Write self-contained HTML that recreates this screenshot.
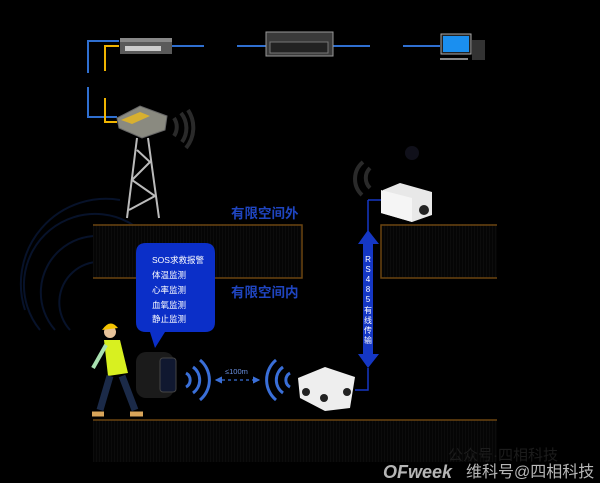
<!DOCTYPE html>
<html><head><meta charset="utf-8"><style>
body{margin:0;background:#000;width:600px;height:483px;overflow:hidden}
svg{display:block}
text{font-family:"Liberation Sans","Noto Sans CJK SC",sans-serif}
</style></head><body>
<svg width="600" height="483" viewBox="0 0 600 483">
<defs>
<pattern id="h" width="3" height="3" patternUnits="userSpaceOnUse"><rect width="3" height="3" fill="#050505"/><line x1="0" y1="0" x2="0" y2="3" stroke="#141414" stroke-width="1"/></pattern>
<marker id="ah" markerWidth="6" markerHeight="6" refX="5" refY="3" orient="auto"><path d="M0,0L6,3L0,6z" fill="#3a6fd8"/></marker>
<marker id="ahs" markerWidth="6" markerHeight="6" refX="1" refY="3" orient="auto"><path d="M6,0L0,3L6,6z" fill="#3a6fd8"/></marker>
</defs>
<g fill="none" stroke="#07122a" stroke-width="2">
<path d="M40,330 A70,70 0 0 1 150,240"/><path d="M55,330 A55,55 0 0 1 140,255"/><path d="M25,310 A85,85 0 0 1 120,200"/><path d="M70,330 A40,40 0 0 1 130,275"/>
</g>
<rect x="93" y="224" width="209" height="54" fill="url(#h)"/>
<path d="M93,225 H302 V278 H93" fill="none" stroke="#6b4410" stroke-width="1.5"/>
<rect x="381" y="224" width="116" height="54" fill="url(#h)"/>
<path d="M497,225 H381 V278 H497" fill="none" stroke="#6b4410" stroke-width="1.5"/>
<rect x="93" y="420" width="404" height="42" fill="url(#h)"/>
<line x1="93" y1="420" x2="497" y2="420" stroke="#6b4410" stroke-width="1.5"/>
<g stroke="#2f6fd0" stroke-width="2" fill="none">
<path d="M119,41 H88 V73"/><path d="M88,87 V117 H117"/>
<line x1="172" y1="46" x2="204" y2="46"/><line x1="237" y1="46" x2="266" y2="46"/>
<line x1="333" y1="46" x2="370" y2="46"/><line x1="403" y1="46" x2="440" y2="46"/>
</g>
<g stroke="#f0b400" stroke-width="2" fill="none"><path d="M119,46 H105 V71"/><path d="M105,98 V122 H117"/></g>
<rect x="120" y="40" width="52" height="14" fill="#5a5a5a"/><rect x="120" y="38" width="52" height="4" fill="#888"/>
<rect x="125" y="46" width="36" height="5" fill="#ccc"/>
<rect x="266" y="32" width="67" height="24" fill="#3a3a3a" stroke="#999" stroke-width="1"/>
<rect x="270" y="42" width="58" height="11" fill="#222" stroke="#777"/>
<rect x="441" y="34" width="30" height="20" fill="#222" stroke="#aaa"/><rect x="443" y="36" width="26" height="16" fill="#1a8ff0"/>
<rect x="472" y="40" width="13" height="20" fill="#333"/><rect x="440" y="58" width="28" height="2" fill="#888"/>
<polygon points="117,118 140,106 167,116 165,130 142,138 119,128" fill="#8a8a80" stroke="#666"/>
<polygon points="121,120 140,112 150,116 132,124" fill="#d8b030"/>
<g stroke="#bbb" stroke-width="2" fill="none"><path d="M137,138 L127,218 M148,138 L159,218 M137,150 L150,162 L132,180 L155,196 L129,210"/></g>
<g fill="none" stroke="#2a2a2a" stroke-width="4">
<path d="M174,118 A16,16 0 0 1 174,136"/><path d="M181,113 A24,24 0 0 1 182,142"/><path d="M188,110 A32,32 0 0 1 186,148"/>
<path d="M370,168 A14,14 0 0 0 370,188"/><path d="M363,162 A22,22 0 0 0 362,195"/>
</g>
<circle cx="412" cy="153" r="7" fill="#10101a"/>
<polygon points="383,190 400,183 432,192 432,215 412,222 381,213" fill="#e8e8e8"/>
<polygon points="381,190 412,198 412,222 381,213" fill="#f5f5f5"/>
<circle cx="424" cy="210" r="5" fill="#222"/>
<text x="231" y="218" font-size="13.5" fill="#1f45c0" font-weight="bold">有限空间外</text>
<text x="231" y="297" font-size="13.5" fill="#1f45c0" font-weight="bold">有限空间内</text>
<path d="M368,200 H381" stroke="#1537c4" stroke-width="1.5"/>
<line x1="368" y1="200" x2="368" y2="232" stroke="#1537c4" stroke-width="1.5"/>
<polygon points="368,230 379,244 373,244 373,354 379,354 368,368 358,354 363,354 363,244 358,244" fill="#1537c4"/>
<g font-size="8" fill="#fff" text-anchor="middle">
<text x="368" y="262">R</text><text x="368" y="272">S</text><text x="368" y="282">4</text><text x="368" y="292">8</text><text x="368" y="302">5</text><text x="368" y="313">有</text><text x="368" y="323">线</text><text x="368" y="333">传</text><text x="368" y="343">输</text>
</g>
<path d="M355,390 H368 V368" stroke="#1537c4" stroke-width="1.5" fill="none"/>
<path d="M146,243 H205 Q215,243 215,253 V322 Q215,332 205,332 H165 L155,348 L150,332 H146 Q136,332 136,322 V253 Q136,243 146,243z" fill="#0b2fc8"/>
<g font-size="8.5" fill="#fff"><text x="152" y="263">SOS求救报警</text><text x="152" y="278">体温监测</text><text x="152" y="293">心率监测</text><text x="152" y="308">血氧监测</text><text x="152" y="322">静止监测</text></g>
<circle cx="110" cy="332" r="6" fill="#e8c39a"/><path d="M102,330 Q110,318 118,328z" fill="#f5c400"/>
<polygon points="104,340 120,340 128,373 108,376" fill="#d8f020"/>
<path d="M110,376 L100,410 M122,376 L135,410" stroke="#1b2a48" stroke-width="7"/>
<path d="M92,414 H104 M130,414 H143" stroke="#d9a55a" stroke-width="5"/>
<path d="M106,345 L93,368" stroke="#a8e0b0" stroke-width="4"/>
<rect x="136" y="352" width="38" height="46" rx="10" fill="#1b1b1b"/><rect x="160" y="358" width="16" height="34" rx="3" fill="#101830" stroke="#444"/>
<g fill="none" stroke="#3a6fd8" stroke-width="3">
<path d="M186,373 A8,8 0 0 1 186,387"/><path d="M193,367 A16,16 0 0 1 193,393"/><path d="M200,360 A26,26 0 0 1 200,400"/>
<path d="M290,373 A8,8 0 0 0 290,387"/><path d="M283,367 A16,16 0 0 0 283,393"/><path d="M276,360 A26,26 0 0 0 276,400"/>
</g>
<line x1="216" y1="380" x2="259" y2="380" stroke="#3a6fd8" stroke-width="1.2" stroke-dasharray="3,3" marker-end="url(#ah)" marker-start="url(#ahs)"/>
<text x="225" y="374" font-size="7.5" fill="#6a90e0">≤100m</text>
<polygon points="298,378 325,367 355,377 350,408 325,411 300,398" fill="#eee"/>
<circle cx="306" cy="392" r="4" fill="#222"/><circle cx="324" cy="398" r="4" fill="#222"/><circle cx="347" cy="392" r="4" fill="#222"/>
<text x="448" y="460" font-size="15" fill="#1c1c1c">公众号·四相科技</text>
<text x="383" y="478" font-size="18" fill="#b5b5b5" font-weight="bold" font-style="italic">OFweek</text>
<text x="466" y="477" font-size="16" fill="#b8b8b8">维科号@四相科技</text>
</svg>
</body></html>
